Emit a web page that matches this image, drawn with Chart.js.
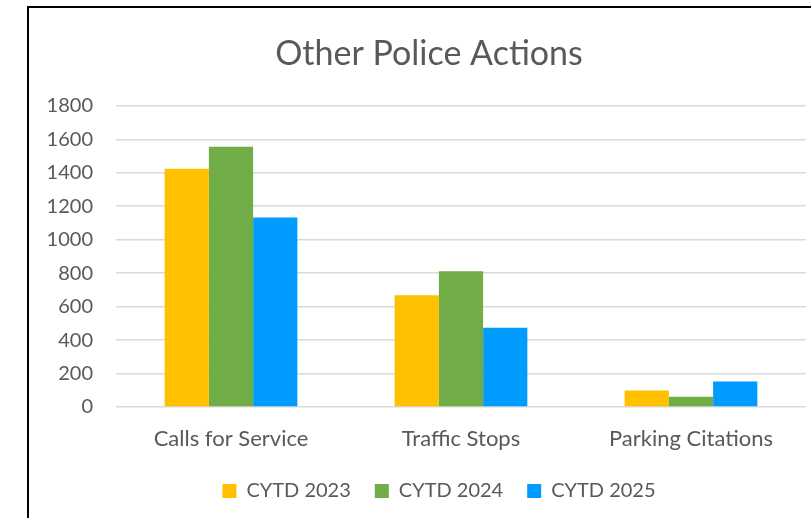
<!DOCTYPE html>
<html>
<head>
<meta charset="utf-8">
<script src="https://cdn.jsdelivr.net/npm/chart.js@4"></script>
<style>
  html, body { margin: 0; padding: 0; background: #fff; }
  #wrap { position: absolute; left: 0; top: 0; width: 811px; height: 518px; }
  #frame { position: absolute; left: 27px; top: 6px; width: 800px; height: 600px;
           border-left: 2px solid #000; border-top: 2px solid #000; pointer-events: none; }
</style>
</head>
<body>
<div id="wrap">
  <canvas id="c" width="811" height="518"></canvas>
  <div id="frame"></div>
</div>
<script>
const categories = ["Calls for Service", "Traffic Stops", "Parking Citations"];
const seriesNames = ["CYTD 2023", "CYTD 2024", "CYTD 2025"];
const cytd2023 = [1424, 668, 98];
const cytd2024 = [1556, 812, 62];
const cytd2025 = [1132, 474, 152];
const seriesColors = ["#FFC000", "#70AD47", "#009BFF"];
const yTicks = [0, 200, 400, 600, 800, 1000, 1200, 1400, 1600, 1800];

const FONT = "Lato, 'Open Sans', sans-serif";
const TXT = "#595959";

const shiftBlocks = {
  id: "shiftBlocks",
  afterLayout(chart) {
    if (chart.legend) { chart.legend.left += 16; chart.legend.right += 16; }
    if (chart.titleBlock) { chart.titleBlock.left += 6; chart.titleBlock.right += 6; }
  }
};

new Chart(document.getElementById("c"), {
  type: "bar",
  data: {
    labels: categories,
    datasets: [cytd2023, cytd2024, cytd2025].map((d, i) => ({
      label: seriesNames[i],
      data: d,
      backgroundColor: seriesColors[i],
      borderWidth: 0,
      categoryPercentage: 0.577,
      barPercentage: 1.0
    }))
  },
  plugins: [shiftBlocks],
  options: {
    responsive: false,
    animation: false,
    devicePixelRatio: 1,
    layout: { padding: { left: 40, right: 5, top: 8, bottom: 7 } },
    plugins: {
      title: {
        display: true,
        text: "Other Police Actions",
        color: TXT,
        font: { family: FONT, size: 34, weight: "normal" },
        padding: { top: 26, bottom: 31 }
      },
      legend: {
        position: "bottom",
        labels: {
          color: TXT,
          font: { family: FONT, size: 20 },
          boxWidth: 14,
          boxHeight: 14,
          padding: 24
        }
      },
      tooltip: { enabled: false }
    },
    scales: {
      x: {
        grid: { display: false, drawTicks: false },
        border: { display: false },
        afterFit: s => { s.height = 50; },
        ticks: { color: TXT, font: { family: FONT, size: 22 }, padding: 19 }
      },
      y: {
        min: 0, max: 1800,
        afterBuildTicks: s => { s.ticks = yTicks.map(v => ({ value: v })); },
        afterFit: s => { s.width = 76; },
        grid: { color: "#D9D9D9", lineWidth: 1.5, drawTicks: false },
        border: { display: false },
        ticks: { color: TXT, font: { family: FONT, size: 20 }, padding: 23,
                 callback: v => String(v) }
      }
    }
  }
});
</script>
</body>
</html>
